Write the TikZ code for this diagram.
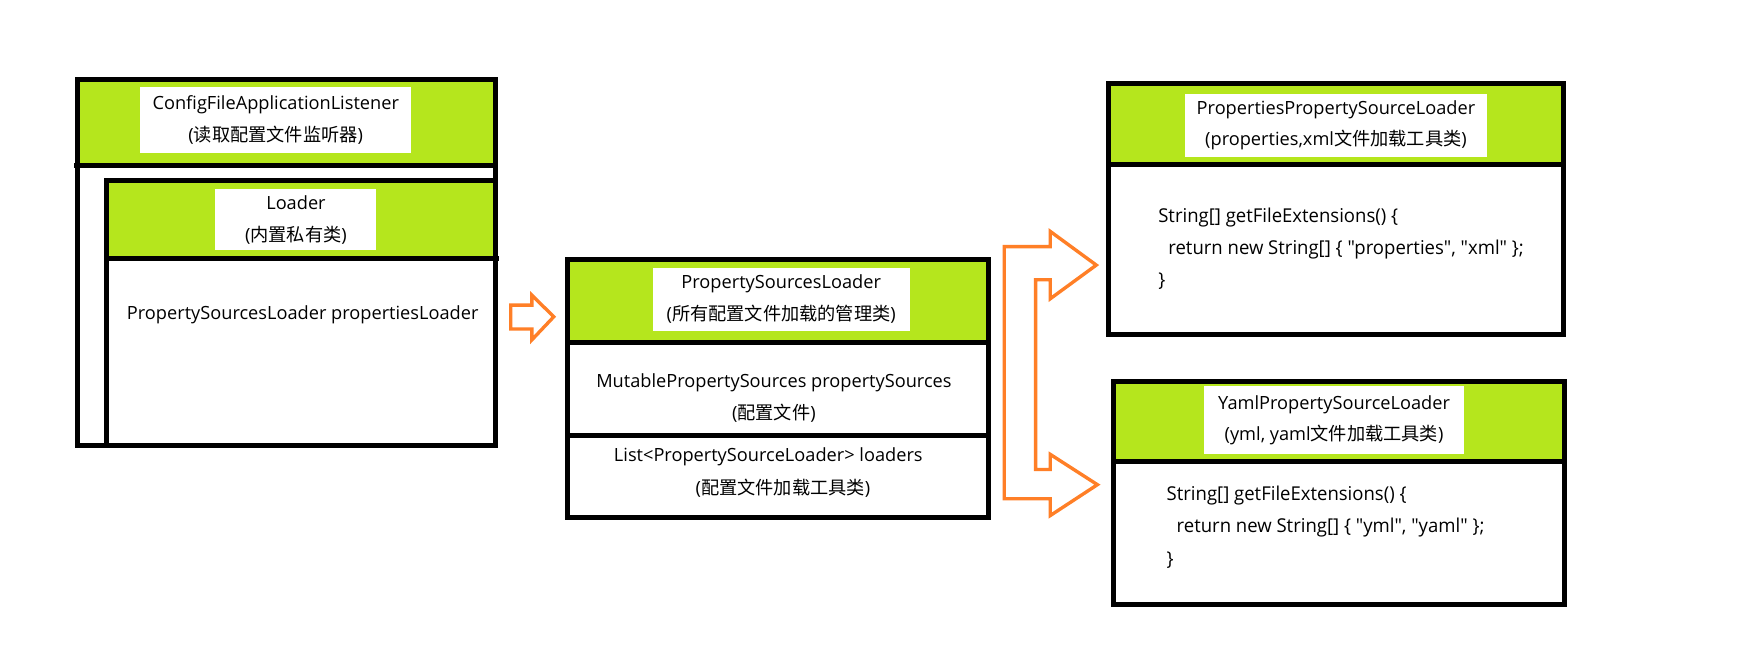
\documentclass[tikz,border=0pt]{standalone}
\usepackage{fontspec}
\setmainfont{Open Sans}
\newfontfamily\cjk{Noto Sans CJK SC}
\newfontfamily\codefont[FakeStretch=0.97]{Open Sans}
\definecolor{lime}{RGB}{181,230,29}
\definecolor{paintorange}{RGB}{255,127,39}
\tikzset{
	box/.style={line width=4.4pt, draw=black},
	head/.style={fill=lime},
	lbl/.style={fill=white, inner sep=0pt, align=center, font=\fontsize{16.2}{28}\selectfont},
	txt/.style={inner sep=0pt, align=center, font=\fontsize{16.2}{28.5}\selectfont},
	code/.style={inner sep=0pt, anchor=west, font=\codefont\fontsize{17}{19}\selectfont},
	hollow/.style={draw=paintorange, line width=3pt, line join=miter}
}

\begin{document}
\begin{tikzpicture}[x=1pt, y=-1pt]
		%%%%% START %%%%%
		\useasboundingbox[fill=white] (0,0) rectangle (1566,576.9);
		
		% ConfigFileApplicationListener
		\fill[head] (69,71) rectangle (441,147);
		\node[lbl, minimum width=241.4, minimum height=59.1] (cfgLbl) at (245.5,106.9) {ConfigFileApplicationListener\\({\cjk 读取配置文件监听器})};
		\draw[box] (66,147) -- (441,147);
		\draw[box] (69,71) rectangle (441,397);
		
		% Loader
		\fill[head] (95,161) rectangle (441,230.5);
		\node[lbl, minimum width=143.3, minimum height=54.3] (ldrLbl) at (263.5,195.8) {Loader\\({\cjk 内置私有类})};
		\draw[box] (95,230.5) -- (444,230.5);
		\draw[box] (95,161) rectangle (441,397);
		\node[txt] (ldrField) at (269.5,280.3) {PropertySourcesLoader propertiesLoader};
		
		\draw[hollow] (454.7,271.7) -- (473.5,271.7) -- (473.5,262.8) -- (493,282) -- (473.5,302.6) -- (473.5,292.9) -- (454.7,292.9) -- cycle;
		
		% PropertySourcesLoader
		\fill[head] (505,231) rectangle (880,304.6);
		\node[lbl, minimum width=228.6, minimum height=55.9] (pslLbl) at (695.5,266.3) {PropertySourcesLoader\\({\cjk 所有配置文件加载的管理类})};
		\draw[box] (505,304.6) -- (882,304.6);
		\draw[box] (505,388) -- (882,388);
		\draw[box] (505,231) rectangle (880,461);
		\node[txt] (mpsField) at (689,354.6) {MutablePropertySources propertySources\\({\cjk 配置文件})};
		\node[txt] (lstField) at (684,406.6) {List<PropertySourceLoader> loaders};
		\node[txt] (lstNote) at (697,435) {({\cjk 配置文件加载工具类})};
		
		\draw[hollow] (894,444) -- (894,219.6) -- (935,219.6) -- (935,206) -- (976,236) -- (935,266) -- (935,249) -- (922,249) -- (922,418) -- (935,418) -- (935,404.5) -- (977,431.5) -- (935,459) -- (935,444) -- cycle;
		
		% PropertiesPropertySourceLoader
		\fill[head] (987,74) rectangle (1392,146.5);
		\node[lbl, minimum width=268.7, minimum height=56.3] (ppsLbl) at (1189.4,111.7) {PropertiesPropertySourceLoader\\(properties,xml{\cjk 文件加载工具类})};
		\draw[box] (987,146.5) -- (1394,146.5);
		\draw[box] (987,74) rectangle (1392,298);
		\node[code] (ppsExt) at (1031,193.8) {String[] getFileExtensions() \{};
		\node[code] (ppsRet) at (1040,221.8) {return new String[] \{ "properties", "xml" \};};
		\node[code] (ppsEnd) at (1031,250.4) {\}};
		
		% YamlPropertySourceLoader
		\fill[head] (991,339.4) rectangle (1393,411);
		\node[lbl, minimum width=231, minimum height=60.5] (ymlLbl) at (1187.7,374.3) {YamlPropertySourceLoader\\(yml, yaml{\cjk 文件加载工具类})};
		\draw[box] (991,411) -- (1395,411);
		\draw[box] (991,339.4) rectangle (1393,538);
		\node[code] (ymlExt) at (1038.5,441) {String[] getFileExtensions() \{};
		\node[code] (ymlRet) at (1047.4,469.6) {return new String[] \{ "yml", "yaml" \};};
		\node[code] (ymlEnd) at (1038.5,498.3) {\}};
		
		%%%%% END %%%%%
\end{tikzpicture}
\end{document}
